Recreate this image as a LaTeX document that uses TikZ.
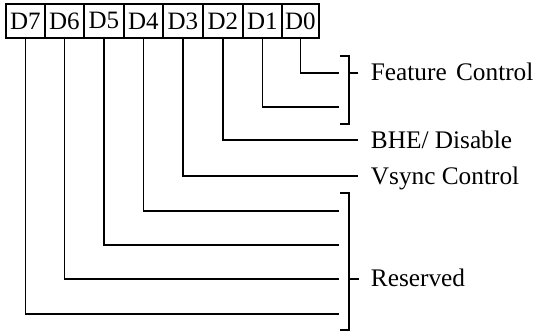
\documentclass[tikz,border=0pt]{standalone}
\usepackage{fontspec}
\setmainfont{Liberation Serif}
\tikzset{
  bitbox/.style={draw, anchor=north west, minimum height=34pt, inner sep=0pt,
    font=\fontsize{25}{25}\selectfont},
  lbl/.style={anchor=base west, inner sep=0pt, font=\fontsize{25.3}{25.3}\selectfont},
  wire/.style={line width=1.8pt},
}
\begin{document}
\begin{tikzpicture}[x=1pt,y=-1pt,line width=1.8pt]
\useasboundingbox (0,0) rectangle (533,331);
% register boxes
\node[bitbox, minimum width=39pt] (b7) at (5,3)   {D7};
\node[bitbox, minimum width=39pt] (b6) at (44,3)  {D6};
\node[bitbox, minimum width=40pt] (b5) at (83,3)  {D5};
\node[bitbox, minimum width=39pt] (b4) at (123,3) {D4};
\node[bitbox, minimum width=40pt] (b3) at (162,3) {D3};
\node[bitbox, minimum width=40pt] (b2) at (202,3) {D2};
\node[bitbox, minimum width=39pt] (b1) at (242,3) {D1};
\node[bitbox, minimum width=37pt] (b0) at (281,3) {D0};
% wire ends
\coordinate (e0) at (339,73);
\coordinate (e1) at (339,107);
\coordinate (e2) at (358,140);
\coordinate (e3) at (358,176);
\coordinate (e4) at (339,211);
\coordinate (e5) at (339,245);
\coordinate (e6) at (339,279);
\coordinate (e7) at (339,314);
\foreach \i in {0,...,7} { \draw[wire] (b\i.south) |- (e\i); }
% feature control bracket
\coordinate (fa) at (340,56);
\coordinate (fb) at (349,56);
\coordinate (fc) at (349,124);
\coordinate (fd) at (340,124);
\coordinate (ft) at (349,73);
\coordinate (fu) at (358,73);
\draw[wire] (fa) -- (fb) -- (fc) -- (fd);
\draw[wire] (ft) -- (fu);
% reserved bracket
\coordinate (ra) at (340,193);
\coordinate (rb) at (349,193);
\coordinate (rc) at (349,330);
\coordinate (rd) at (340,330);
\coordinate (rt) at (349,279);
\coordinate (ru) at (359,279);
\draw[wire] (ra) -- (rb) -- (rc) -- (rd);
\draw[wire] (rt) -- (ru);
% labels
\node[lbl] (lf) at (370,81)  {Feature\hspace{3pt} Control};
\node[lbl] (lb) at (370,149) {BHE/ Disable};
\node[lbl] (lv) at (370,185) {Vsync Control};
\node[lbl] (lr) at (370,287) {Reserved};
\end{tikzpicture}
\end{document}
